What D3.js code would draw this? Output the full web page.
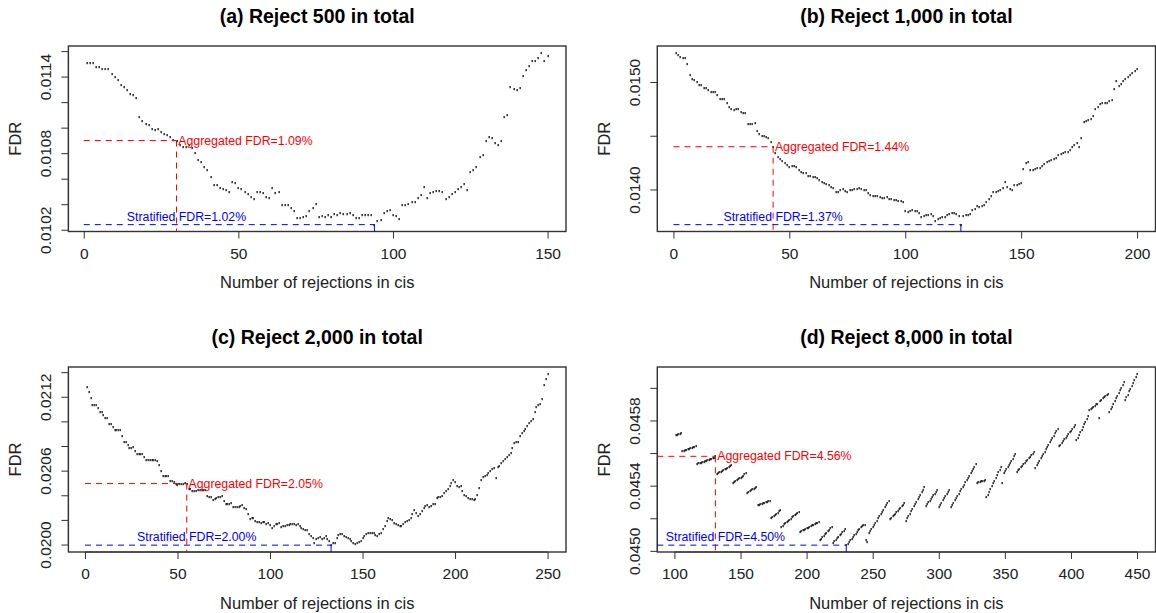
<!DOCTYPE html>
<html><head><meta charset="utf-8">
<script src="https://cdn.jsdelivr.net/npm/d3@7"></script>
<style>
html,body{margin:0;padding:0;background:#fff;overflow:hidden;}
svg{display:block;font-family:"Liberation Sans",Arial,sans-serif;}
</style></head>
<body>
<svg id="chart" width="1156" height="613"></svg>
<script>
// ---------------- data ----------------
const titles = ["(a) Reject 500 in total", "(b) Reject 1,000 in total", "(c) Reject 2,000 in total", "(d) Reject 8,000 in total"];
const xLabel = "Number of rejections in cis";
const yLabel = "FDR";

// first x (number of rejections in cis) of each series; one point per integer after it
const firstX = [1, 1, 1, 101];

const fdrA = [0.011505,0.011505,0.011505,0.011479,0.011479,0.011456,0.011456,0.011456,0.011422,0.011396,
0.011370,0.011336,0.011318,0.011292,0.011266,0.011258,0.011232,0.011084,0.011050,0.011032,
0.011024,0.010988,0.010980,0.010988,0.010962,0.010954,0.010941,0.010928,0.010902,0.010899,
0.010863,0.010850,0.010850,0.010863,0.010837,0.010798,0.010746,0.010733,0.010694,0.010668,
0.010616,0.010551,0.010551,0.010530,0.010520,0.010512,0.010499,0.010577,0.010564,0.010530,
0.010520,0.010499,0.010478,0.010460,0.010442,0.010499,0.010499,0.010486,0.010460,0.010447,
0.010525,0.010486,0.010499,0.010395,0.010395,0.010390,0.010369,0.010343,0.010291,0.010291,
0.010296,0.010304,0.010348,0.010374,0.010400,0.010296,0.010304,0.010296,0.010317,0.010296,
0.010322,0.010317,0.010330,0.010322,0.010322,0.010330,0.010317,0.010291,0.010291,0.010317,
0.010312,0.010317,0.010317,0.010240,0.010265,0.010278,0.010330,0.010343,0.010356,0.010317,
0.010304,0.010286,0.010395,0.010395,0.010400,0.010421,0.010421,0.010447,0.010473,0.010538,
0.010447,0.010486,0.010499,0.010504,0.010504,0.010499,0.010442,0.010460,0.010478,0.010499,
0.010520,0.010538,0.010556,0.010512,0.010655,0.010668,0.010694,0.010772,0.010785,0.010894,
0.010928,0.010915,0.010876,0.010863,0.010894,0.011084,0.011097,0.011318,0.011300,0.011292,
0.011313,0.011404,0.011448,0.011482,0.011521,0.011526,0.011547,0.011586,0.011521,0.011560];

const fdrB = [0.015271,0.015247,0.015231,0.015225,0.015225,0.015170,0.015062,0.015031,0.015015,0.015000,
0.014975,0.014969,0.014944,0.014944,0.014923,0.014907,0.014907,0.014907,0.014876,0.014846,
0.014839,0.014846,0.014809,0.014768,0.014753,0.014738,0.014747,0.014753,0.014722,0.014707,
0.014707,0.014605,0.014605,0.014605,0.014614,0.014543,0.014512,0.014500,0.014500,0.014491,
0.014475,0.014444,0.014398,0.014336,0.014306,0.014284,0.014265,0.014244,0.014228,0.014213,
0.014222,0.014222,0.014213,0.014182,0.014160,0.014151,0.014151,0.014130,0.014130,0.014120,
0.014120,0.014105,0.014089,0.014074,0.014059,0.014049,0.014043,0.014019,0.014012,0.013981,
0.013975,0.013997,0.014006,0.013988,0.013975,0.013997,0.013991,0.014003,0.014006,0.014012,
0.014006,0.013997,0.013991,0.013966,0.013951,0.013944,0.013935,0.013935,0.013926,0.013920,
0.013920,0.013926,0.013914,0.013914,0.013904,0.013901,0.013895,0.013889,0.013883,0.013796,
0.013790,0.013802,0.013812,0.013802,0.013796,0.013781,0.013741,0.013750,0.013759,0.013765,
0.013772,0.013750,0.013710,0.013728,0.013735,0.013741,0.013741,0.013759,0.013772,0.013781,
0.013781,0.013772,0.013750,0.013673,0.013750,0.013765,0.013765,0.013772,0.013812,0.013821,
0.013843,0.013833,0.013846,0.013858,0.013883,0.013914,0.013944,0.013981,0.013981,0.013988,
0.013997,0.014012,0.014068,0.014019,0.014006,0.013997,0.014043,0.014043,0.014049,0.014059,
0.014191,0.014244,0.014253,0.014182,0.014185,0.014191,0.014198,0.014204,0.014222,0.014235,
0.014253,0.014265,0.014275,0.014284,0.014290,0.014321,0.014330,0.014336,0.014352,0.014346,
0.014367,0.014398,0.014414,0.014429,0.014398,0.014475,0.014630,0.014636,0.014645,0.014660,
0.014685,0.014753,0.014768,0.014799,0.014809,0.014809,0.014809,0.014821,0.014830,0.014932,
0.015009,0.014963,0.014984,0.015009,0.015031,0.015046,0.015068,0.015086,0.015099,0.015117];

const fdrC = [0.021281,0.021236,0.021187,0.021133,0.021133,0.021133,0.021106,0.021080,0.021080,0.021053,
0.021031,0.021031,0.020977,0.020977,0.020958,0.020931,0.020931,0.020931,0.020931,0.020878,
0.020832,0.020832,0.020810,0.020783,0.020783,0.020789,0.020756,0.020735,0.020735,0.020735,
0.020735,0.020708,0.020689,0.020689,0.020689,0.020689,0.020689,0.020689,0.020676,0.020649,
0.020595,0.020555,0.020555,0.020555,0.020555,0.020514,0.020514,0.020509,0.020493,0.020482,
0.020493,0.020493,0.020493,0.020501,0.020495,0.020455,0.020447,0.020433,0.020433,0.020433,
0.020439,0.020439,0.020439,0.020439,0.020439,0.020393,0.020385,0.020385,0.020358,0.020366,
0.020374,0.020385,0.020385,0.020393,0.020353,0.020326,0.020326,0.020331,0.020339,0.020304,
0.020304,0.020304,0.020304,0.020312,0.020320,0.020299,0.020285,0.020245,0.020205,0.020218,
0.020213,0.020191,0.020186,0.020186,0.020178,0.020186,0.020186,0.020170,0.020178,0.020159,
0.020137,0.020151,0.020164,0.020170,0.020178,0.020143,0.020148,0.020151,0.020159,0.020162,
0.020164,0.020170,0.020164,0.020159,0.020170,0.020151,0.020137,0.020124,0.020121,0.020116,
0.020089,0.020070,0.020051,0.020016,0.020043,0.020057,0.020062,0.020043,0.020057,0.020070,
0.020043,0.020030,0.019995,0.020016,0.020016,0.020057,0.020078,0.020083,0.020089,0.020070,
0.020062,0.020057,0.020043,0.020030,0.020016,0.020003,0.020016,0.020024,0.020030,0.020051,
0.020070,0.020089,0.020097,0.020097,0.020097,0.020097,0.020078,0.020070,0.020083,0.020097,
0.020124,0.020151,0.020191,0.020213,0.020205,0.020197,0.020178,0.020170,0.020159,0.020151,
0.020151,0.020170,0.020186,0.020191,0.020197,0.020218,0.020245,0.020277,0.020258,0.020232,
0.020250,0.020272,0.020299,0.020312,0.020320,0.020304,0.020312,0.020326,0.020331,0.020380,
0.020385,0.020390,0.020393,0.020420,0.020433,0.020447,0.020474,0.020501,0.020520,0.020509,
0.020474,0.020466,0.020474,0.020433,0.020401,0.020393,0.020380,0.020371,0.020366,0.020358,
0.020366,0.020406,0.020460,0.020528,0.020546,0.020555,0.020568,0.020579,0.020600,0.020616,
0.020622,0.020541,0.020627,0.020635,0.020662,0.020681,0.020695,0.020708,0.020730,0.020743,
0.020783,0.020821,0.020829,0.020835,0.020878,0.020902,0.020923,0.020942,0.020961,0.020983,
0.021004,0.021023,0.021080,0.021117,0.021133,0.021144,0.021184,0.021292,0.021346,0.021386];

const fdrD = [0.045709,0.045713,0.045715,0.045719,0.045723,
0.045613,0.045615,0.045619,0.045621,0.045625,0.045627,0.045629,0.045634,0.045636,0.045640,0.045642,
0.045532,0.045536,0.045538,0.045542,0.045544,0.045548,0.045550,0.045554,0.045556,0.045560,0.045562,0.045566,0.045568,0.045572,0.045580,
0.045471,0.045475,0.045481,0.045485,0.045491,0.045495,0.045501,0.045505,0.045511,0.045515,0.045522,0.045526,
0.045414,0.045420,0.045426,0.045432,0.045438,0.045444,0.045450,0.045456,0.045462,0.045469,0.045475,
0.045357,0.045361,0.045367,0.045371,0.045377,0.045381,0.045387,0.045393,
0.045281,0.045283,0.045287,0.045289,0.045291,0.045295,0.045297,0.045302,0.045304,0.045308,
0.045200,0.045206,0.045214,0.045220,0.045228,0.045234,0.045242,0.045251,
0.045149,0.045155,0.045163,0.045169,0.045177,0.045183,0.045191,0.045198,0.045206,0.045212,0.045220,0.045226,0.045234,0.045240,
0.045118,0.045122,0.045126,0.045130,0.045134,0.045139,0.045143,0.045147,0.045153,0.045157,0.045161,0.045165,0.045169,0.045173,0.045179,
0.045067,0.045075,0.045086,0.045094,0.045104,0.045112,0.045122,0.045130,0.045141,0.045149,
0.045051,0.045059,0.045069,0.045077,0.045088,0.045096,0.045106,0.045114,0.045124,0.045132,
0.045035,0.045045,0.045055,0.045065,0.045075,0.045086,0.045096,0.045106,0.045116,0.045126,0.045137,0.045147,0.045153,0.045157,0.045159,
0.045067,0.045057,
0.045108,0.045120,0.045132,0.045147,0.045159,0.045173,0.045185,0.045200,0.045212,0.045226,0.045238,0.045251,0.045267,0.045281,0.045295,0.045308,
0.045194,0.045202,0.045212,0.045220,0.045228,0.045238,0.045247,0.045257,0.045265,0.045273,0.045283,0.045291,
0.045185,0.045200,0.045214,0.045228,0.045242,0.045257,0.045273,0.045287,0.045302,0.045316,0.045330,0.045344,0.045359,0.045373,0.045389,
0.045275,0.045285,0.045297,0.045308,0.045318,0.045330,0.045340,0.045350,0.045363,0.045373,
0.045271,0.045283,0.045295,0.045310,0.045322,0.045334,0.045346,0.045361,0.045373,
0.045267,0.045281,0.045295,0.045310,0.045322,0.045336,0.045350,0.045365,0.045379,0.045393,0.045407,0.045422,0.045434,0.045448,0.045462,0.045477,0.045491,0.045505,0.045517,0.045532,
0.045418,0.045420,0.045422,0.045426,0.045428,0.045430,0.045434,
0.045328,0.045344,0.045363,0.045379,0.045395,0.045414,0.045430,0.045446,0.045464,0.045481,0.045497,0.045515,
0.045418,
0.045475,0.045487,0.045501,0.045513,0.045528,0.045540,0.045554,0.045566,0.045581,0.045593,
0.045485,0.045495,0.045503,0.045513,0.045522,0.045532,0.045540,0.045550,0.045558,0.045568,0.045577,0.045587,0.045595,0.045605,
0.045511,0.045526,0.045540,0.045554,0.045568,0.045583,0.045597,0.045609,0.045623,0.045638,0.045652,0.045666,0.045680,0.045695,0.045707,0.045721,0.045735,0.045750,
0.045642,0.045652,0.045662,0.045674,0.045684,0.045695,0.045705,0.045717,0.045727,0.045737,0.045748,0.045760,0.045770,
0.045678,0.045695,0.045711,0.045727,0.045744,0.045760,0.045776,0.045792,0.045809,0.045825,
0.045862,0.045870,0.045876,0.045884,0.045890,0.045898,0.045904,0.045817,0.045921,0.045927,0.045935,0.045941,0.045949,0.045955,0.045964,
0.045851,0.045868,0.045884,0.045902,0.045919,0.045935,0.045951,0.045968,0.045984,0.046002,0.046018,0.046035,
0.045923,0.045941,0.045959,0.045978,0.045996,0.046012,0.046031,0.046049,0.046067,0.046086];

// aggregated cut (x where the aggregated FDR threshold falls) and stratified optimum
const aggX = [30, 43, 55, 131];
const stratX = [94, 124, 133, 230];
const aggLabels = ["Aggregated FDR=1.09%", "Aggregated FDR=1.44%", "Aggregated FDR=2.05%", "Aggregated FDR=4.56%"];
const stratLabels = ["Stratified FDR=1.02%", "Stratified FDR=1.37%", "Stratified FDR=2.00%", "Stratified FDR=4.50%"];

// axis ticks
const xTicksA = [0, 50, 100, 150];
const xTicksB = [0, 50, 100, 150, 200];
const xTicksC = [0, 50, 100, 150, 200, 250];
const xTicksD = [100, 150, 200, 250, 300, 350, 400, 450];
const yTicksA = [0.0102, 0.0104, 0.0106, 0.0108, 0.0110, 0.0112, 0.0114, 0.0116];
const yTicksB = [0.0140, 0.0145, 0.0150];
const yTicksC = [0.0200, 0.0202, 0.0204, 0.0206, 0.0208, 0.0210, 0.0212, 0.0214];
const yTicksD = [0.0450, 0.0452, 0.0454, 0.0456, 0.0458, 0.0460];
const yLabelsA = ["0.0102", "0.0108", "0.0114"];
const yLabelsB = ["0.0140", "0.0150"];
const yLabelsC = ["0.0200", "0.0206", "0.0212"];
const yLabelsD = ["0.0450", "0.0454", "0.0458"];

// ---------------- layout ----------------
const boxes = [
  {x0: 68.4, x1: 566, y0: 46, y1: 231.5},
  {x0: 657.3, x1: 1155.5, y0: 46, y1: 231.5},
  {x0: 68.4, x1: 566, y0: 367, y1: 552},
  {x0: 657.3, x1: 1155.5, y0: 367, y1: 552}
];
const series = [fdrA, fdrB, fdrC, fdrD];
const xTicks = [xTicksA, xTicksB, xTicksC, xTicksD];
const yTicks = [yTicksA, yTicksB, yTicksC, yTicksD];
const yLabs = [yLabelsA, yLabelsB, yLabelsC, yLabelsD];

const svg = d3.select("#chart");
const RED = "#ff0000", BLUE = "#0000ff";
const DASH = "6,5";
const FONT = '"Liberation Sans",Arial,sans-serif';

function rExtend(ext) { // R-style 4% axis extension
  const d = (ext[1] - ext[0]) * 0.04;
  return [ext[0] - d, ext[1] + d];
}

series.forEach((vals, i) => {
  const b = boxes[i];
  const pts = vals.map((v, k) => ({x: firstX[i] + k, y: v}));
  const x = d3.scaleLinear().domain(rExtend(d3.extent(pts, d => d.x))).range([b.x0, b.x1]);
  const y = d3.scaleLinear().domain(rExtend(d3.extent(pts, d => d.y))).range([b.y1, b.y0]);
  const g = svg.append("g");

  // title
  g.append("text").attr("x", (b.x0 + b.x1) / 2).attr("y", b.y0 - 30)
    .attr("text-anchor", "middle").attr("dominant-baseline", "central")
    .attr("font-size", 19.5).attr("font-weight", "bold").attr("fill", "#000")
    .text(titles[i]);

  // x axis
  const xa = d3.axisBottom(x).tickValues(xTicks[i]).tickSize(7).tickPadding(4).tickFormat(d3.format("d"));
  const gx = g.append("g").attr("transform", `translate(0,${b.y1})`).call(xa);
  gx.select(".domain").attr("d", `M${x(xTicks[i][0])},0H${x(xTicks[i][xTicks[i].length - 1])}`);
  gx.selectAll("text").attr("font-size", 15.5).attr("font-family", FONT)
    .attr("fill", "#222").attr("dy", null).attr("y", 21.5).attr("dominant-baseline", "central");
  gx.selectAll("line,path").attr("stroke", "#333");

  // y axis
  const ya = d3.axisLeft(y).tickValues(yTicks[i]).tickSize(7).tickPadding(4)
    .tickFormat(v => { const s = d3.format(".4f")(v); return yLabs[i].includes(s) ? s : ""; });
  const gy = g.append("g").attr("transform", `translate(${b.x0},0)`).call(ya);
  gy.select(".domain").attr("d", `M0,${y(yTicks[i][0])}V${y(yTicks[i][yTicks[i].length - 1])}`);
  gy.selectAll("line,path").attr("stroke", "#333");
  gy.selectAll(".tick text").attr("font-size", 15.5).attr("font-family", FONT)
    .attr("fill", "#222").attr("x", null).attr("dy", null).attr("text-anchor", "middle")
    .attr("dominant-baseline", "central").attr("transform", "translate(-23,0) rotate(-90)");

  // axis titles
  g.append("text").attr("x", (b.x0 + b.x1) / 2).attr("y", b.y1 + 50.5)
    .attr("text-anchor", "middle").attr("dominant-baseline", "central")
    .attr("font-size", 16.5).attr("fill", "#222").text(xLabel);
  g.append("text").attr("transform", `translate(${b.x0 - 53},${(b.y0 + b.y1) / 2}) rotate(-90)`)
    .attr("text-anchor", "middle").attr("dominant-baseline", "central")
    .attr("font-size", 16.5).attr("fill", "#222").text(yLabel);

  // box
  g.append("rect").attr("x", b.x0).attr("y", b.y0).attr("width", b.x1 - b.x0).attr("height", b.y1 - b.y0)
    .attr("fill", "none").attr("stroke", "#333").attr("stroke-width", 1.4);

  // points
  g.append("g").selectAll("rect").data(pts).join("rect")
    .attr("x", d => Math.round(x(d.x)) - 0.5).attr("y", d => Math.round(y(d.y)) - 1)
    .attr("width", 1.3).attr("height", 2.2).attr("fill", "#111");

  // reference lines start at x = 0, clipped to the plot region
  const lineStart = Math.max(0, x.domain()[0]);

  // aggregated reference
  const aV = vals[aggX[i] - firstX[i]];
  g.append("line").attr("x1", x(lineStart)).attr("x2", x(aggX[i])).attr("y1", y(aV)).attr("y2", y(aV))
    .attr("stroke", RED).attr("stroke-dasharray", DASH).attr("stroke-width", 1);
  g.append("line").attr("x1", x(aggX[i])).attr("x2", x(aggX[i])).attr("y1", y(aV)).attr("y2", b.y1)
    .attr("stroke", RED).attr("stroke-dasharray", DASH).attr("stroke-width", 1);
  g.append("text").attr("x", x(aggX[i]) + 1.8).attr("y", y(aV))
    .attr("dominant-baseline", "central").attr("font-size", 12.3).attr("fill", RED).text(aggLabels[i]);

  // stratified reference
  const sV = vals[stratX[i] - firstX[i]];
  g.append("line").attr("x1", x(lineStart)).attr("x2", x(stratX[i])).attr("y1", y(sV)).attr("y2", y(sV))
    .attr("stroke", BLUE).attr("stroke-dasharray", DASH).attr("stroke-width", 1);
  g.append("line").attr("x1", x(stratX[i])).attr("x2", x(stratX[i])).attr("y1", y(sV)).attr("y2", b.y1)
    .attr("stroke", BLUE).attr("stroke-width", 1);
  g.append("text").attr("x", x(aggX[i]) + 10).attr("y", y(sV) - 8)
    .attr("text-anchor", "middle").attr("dominant-baseline", "central")
    .attr("font-size", 12.3).attr("fill", BLUE).text(stratLabels[i]);
});
</script>
</body></html>
